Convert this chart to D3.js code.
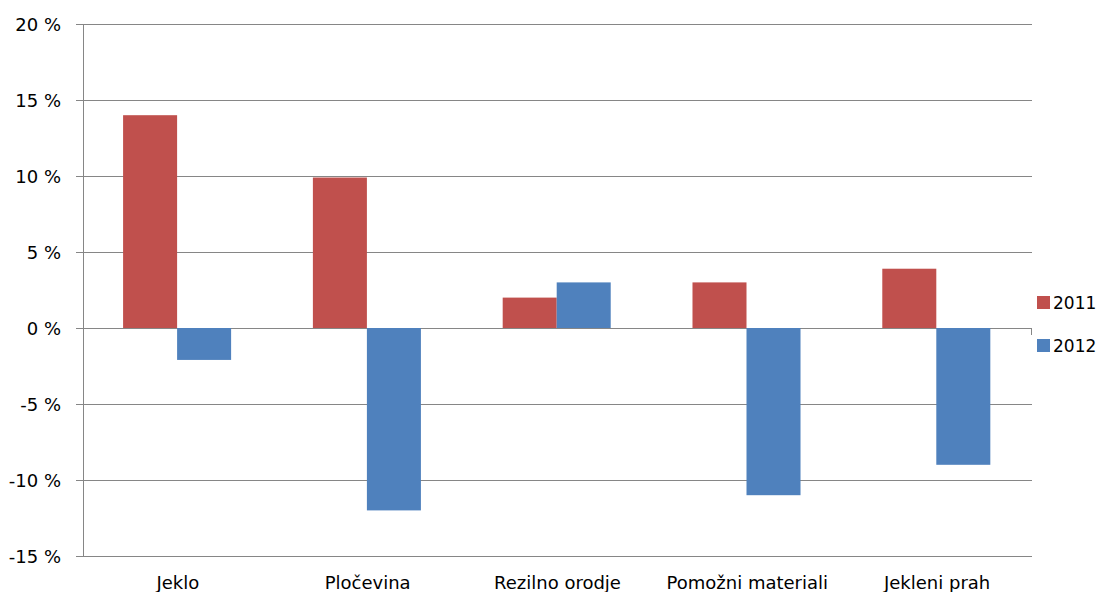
<!DOCTYPE html>
<html><head><meta charset="utf-8">
<script src="https://cdn.jsdelivr.net/npm/d3@7"></script>
<style>body{margin:0;background:#fff}svg{display:block}text{font-family:"DejaVu Sans",sans-serif}</style>
</head><body>
<script>
const categories = ["Jeklo","Pločevina","Rezilno orodje","Pomožni materiali","Jekleni prah"];
const seriesNames = ["2011","2012"];
const values2011 = [14.0, 9.9, 2.0, 3.0, 3.9];
const values2012 = [-2.1, -12.0, 3.0, -11.0, -9.0];
const yTicks = [-15,-10,-5,0,5,10,15,20];
const colors = ["#C0504D","#4F81BD"];

const W=1098,H=592;
const svg=d3.select("body").append("svg").attr("width",W).attr("height",H);
const mLeft=83,mRight=1032,mTop=24,mBottom=556;
const x=d3.scaleBand().domain(categories).range([mLeft,mRight]).paddingInner(0).paddingOuter(0);
const y=d3.scaleLinear().domain([-15,20]).range([mBottom,mTop]);
const inner=d3.scaleBand().domain(seriesNames).range([0,x.bandwidth()]).paddingInner(0).paddingOuter(0.757);
const yAxis=d3.axisLeft(y).tickValues(yTicks).tickSize(-(mRight-mLeft)).tickFormat(d=>d+" %");
const g=svg.append("g").attr("transform",`translate(${mLeft},0)`).call(yAxis);
g.select(".domain").remove();
g.selectAll(".tick line").attr("stroke","#868686").attr("stroke-width",1).attr("x1",-7);
g.selectAll(".tick text").attr("x",-22).attr("font-size",18).attr("fill","#000").attr("dy","0.35em").attr("font-family","DejaVu Sans");
svg.append("line").attr("x1",mLeft+0.5).attr("x2",mLeft+0.5).attr("y1",mTop).attr("y2",mBottom).attr("stroke","#868686");
svg.append("line").attr("x1",mRight-0.5).attr("x2",mRight-0.5).attr("y1",y(0)).attr("y2",y(0)+7).attr("stroke","#868686");
const data=categories.map((c,i)=>({c,v:[values2011[i],values2012[i]]}));
const grp=svg.append("g");
data.forEach(d=>{
  d.v.forEach((v,j)=>{
    grp.append("rect")
      .attr("x",x(d.c)+inner(seriesNames[j])-0.8)
      .attr("width",inner.bandwidth())
      .attr("y",Math.min(y(v),y(0)))
      .attr("height",Math.abs(y(v)-y(0)))
      .attr("fill",colors[j]);
  });
});
svg.append("g").selectAll("text").data(categories).join("text")
  .attr("x",d=>x(d)+x.bandwidth()/2).attr("y",589).attr("text-anchor","middle")
  .attr("font-size",18).attr("fill","#000").text(d=>d);
const lg=svg.append("g");
seriesNames.forEach((s,i)=>{
  const yy=296+i*43;
  lg.append("rect").attr("x",1037).attr("y",yy).attr("width",13).attr("height",13).attr("fill",colors[i]);
  lg.append("text").attr("x",1053).attr("y",yy+13).attr("font-size",17).attr("fill","#000").text(s);
});
</script>
</body></html>
